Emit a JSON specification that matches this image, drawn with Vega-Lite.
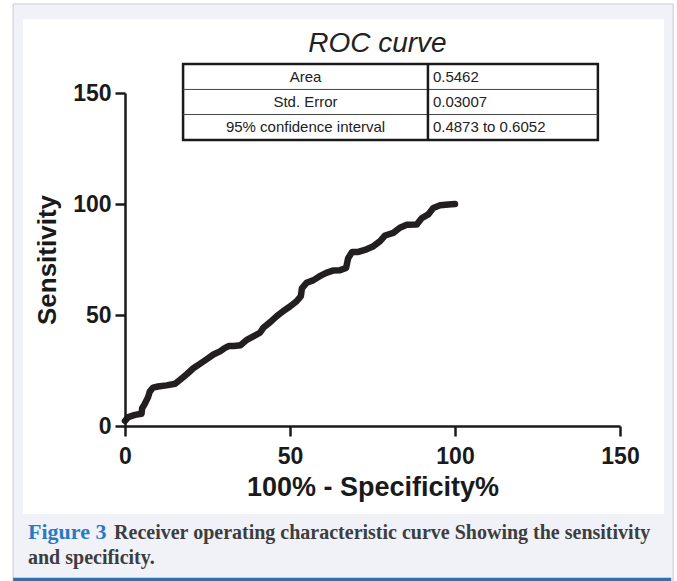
{
  "$schema": "https://vega.github.io/schema/vega-lite/v6.json",
  "width": 495,
  "height": 333,
  "autosize": {"type": "none"},
  "padding": {"left": 125, "top": 93, "right": 57, "bottom": 155},
  "background": "#ffffff",
  "config": {
    "view": {"stroke": null},
    "font": "Liberation Sans",
    "axis": {
      "domainColor": "#1a1a1a", "domainWidth": 2.5, "tickColor": "#1a1a1a", "tickWidth": 2.5, "tickSize": 10,
      "labelFont": "Liberation Sans", "labelFontSize": 23, "labelFontWeight": "bold", "labelColor": "#1a1a1a",
      "titleFont": "Liberation Sans", "titleFontWeight": "bold", "titleColor": "#1a1a1a",
      "grid": false, "labelFlush": false, "labelOverlap": false
    }
  },
  "datasets": {
    "roc": [
      {"fpr": 0, "sens": 2.3}, {"fpr": 1, "sens": 4}, {"fpr": 3, "sens": 5}, {"fpr": 5, "sens": 5.5}, {"fpr": 5.2, "sens": 8},
      {"fpr": 6, "sens": 10}, {"fpr": 7, "sens": 13}, {"fpr": 7.5, "sens": 15.5}, {"fpr": 8.5, "sens": 17.3}, {"fpr": 10, "sens": 17.8},
      {"fpr": 12.6, "sens": 18.3}, {"fpr": 15.2, "sens": 19}, {"fpr": 16.7, "sens": 20.8}, {"fpr": 18.7, "sens": 23.3}, {"fpr": 20.7, "sens": 26},
      {"fpr": 22.7, "sens": 28}, {"fpr": 24.7, "sens": 30}, {"fpr": 26.8, "sens": 32.2}, {"fpr": 28.8, "sens": 33.6}, {"fpr": 30.3, "sens": 35.2},
      {"fpr": 31.5, "sens": 36}, {"fpr": 33, "sens": 36}, {"fpr": 35, "sens": 36.4}, {"fpr": 36.9, "sens": 38.8}, {"fpr": 38.9, "sens": 40.4},
      {"fpr": 40.9, "sens": 42}, {"fpr": 42, "sens": 44.4}, {"fpr": 44, "sens": 46.8}, {"fpr": 46, "sens": 49.5}, {"fpr": 48, "sens": 51.8},
      {"fpr": 50, "sens": 53.8}, {"fpr": 52, "sens": 56.2}, {"fpr": 53.3, "sens": 58.5}, {"fpr": 53.6, "sens": 62}, {"fpr": 55, "sens": 64.5},
      {"fpr": 57, "sens": 65.6}, {"fpr": 59, "sens": 67.5}, {"fpr": 61, "sens": 69}, {"fpr": 63, "sens": 70}, {"fpr": 65.2, "sens": 70.2},
      {"fpr": 67, "sens": 71.2}, {"fpr": 67.6, "sens": 75.5}, {"fpr": 68.8, "sens": 78.4}, {"fpr": 70.7, "sens": 78.4}, {"fpr": 73.2, "sens": 79.6},
      {"fpr": 75.3, "sens": 81}, {"fpr": 77.3, "sens": 83.3}, {"fpr": 78.8, "sens": 85.8}, {"fpr": 81.3, "sens": 87}, {"fpr": 83.3, "sens": 89.3},
      {"fpr": 85.4, "sens": 90.6}, {"fpr": 88.4, "sens": 90.8}, {"fpr": 89.9, "sens": 93.6}, {"fpr": 91.9, "sens": 95.3}, {"fpr": 93.4, "sens": 98.2},
      {"fpr": 95.5, "sens": 99.4}, {"fpr": 98, "sens": 99.8}, {"fpr": 100, "sens": 100}
    ],
    "table": [
      {"stat": "Area", "value": "0.5462"},
      {"stat": "Std. Error", "value": "0.03007"},
      {"stat": "95% confidence interval", "value": "0.4873 to 0.6052"}
    ]
  },
  "layer": [
    {
      "layer": [
        {
          "data": {"values": [{}]},
          "mark": {"type": "rect", "fill": "#f0f2f7", "stroke": "#c8cad0", "strokeWidth": 1},
          "encoding": {
            "x": {"datum": -33.9, "type": "quantitative"}, "x2": {"datum": 166.1},
            "y": {"datum": 190.1, "type": "quantitative"}, "y2": {"datum": -80}
          }
        },
        {
          "data": {"values": [{}]},
          "mark": {"type": "rect", "fill": "#ffffff"},
          "encoding": {
            "x": {"datum": -30.9, "type": "quantitative"}, "x2": {"datum": 163.3},
            "y": {"datum": 183.3, "type": "quantitative"}, "y2": {"datum": -39.6}
          }
        },
        {
          "data": {"values": [{}]},
          "mark": {"type": "rule", "color": "#2a72b8", "strokeWidth": 3.5},
          "encoding": {
            "x": {"datum": -33.9, "type": "quantitative"}, "x2": {"datum": 165.5},
            "y": {"datum": -69.1, "type": "quantitative"}
          }
        },
        {
          "data": {"name": "roc"},
          "mark": {"type": "line", "color": "#231f20", "strokeWidth": 6.5, "strokeCap": "round", "strokeJoin": "round"},
          "encoding": {
            "x": {"field": "fpr", "type": "quantitative", "title": "100% - Specificity%",
                  "scale": {"domain": [0, 150], "nice": false},
                  "axis": {"values": [0, 50, 100, 150], "labelPadding": 9, "titlePadding": 6, "titleFontSize": 27, "zindex": 2}},
            "y": {"field": "sens", "type": "quantitative", "title": "Sensitivity",
                  "scale": {"domain": [0, 150], "nice": false},
                  "axis": {"values": [0, 50, 100, 150], "labelPadding": 4, "titlePadding": 12, "titleFontSize": 26, "zindex": 2}}
          }
        },
        {
          "data": {"values": [{}]},
          "mark": {"type": "rect", "fill": null, "stroke": "#1a1a1a", "strokeWidth": 2.5},
          "encoding": {
            "x": {"datum": 17.6, "type": "quantitative"}, "x2": {"datum": 143.3},
            "y": {"datum": 163.1, "type": "quantitative"}, "y2": {"datum": 128.8}
          }
        },
        {
          "data": {"values": [{"r": 151.6}, {"r": 140.3}]},
          "mark": {"type": "rule", "color": "#444444", "strokeWidth": 1},
          "encoding": {
            "x": {"datum": 17.6, "type": "quantitative"}, "x2": {"datum": 143.3},
            "y": {"field": "r", "type": "quantitative"}
          }
        },
        {
          "data": {"values": [{}]},
          "mark": {"type": "rule", "color": "#1a1a1a", "strokeWidth": 2.5},
          "encoding": {
            "x": {"datum": 91.8, "type": "quantitative"},
            "y": {"datum": 163.1, "type": "quantitative"}, "y2": {"datum": 128.8}
          }
        },
        {
          "data": {"values": [{"t": "ROC curve"}]},
          "mark": {"type": "text", "font": "Liberation Sans", "fontSize": 28, "fontStyle": "italic", "color": "#222222", "align": "center", "baseline": "alphabetic"},
          "encoding": {
            "x": {"datum": 76.5, "type": "quantitative"},
            "y": {"datum": 168.5, "type": "quantitative"},
            "text": {"field": "t"}
          }
        },
        {
          "data": {"values": [{"t": "Figure 3"}]},
          "mark": {"type": "text", "font": "Liberation Serif", "fontSize": 22, "fontWeight": "bold", "color": "#2b79c2", "align": "left", "baseline": "alphabetic"},
          "encoding": {
            "x": {"datum": -29.4, "type": "quantitative"},
            "y": {"datum": -50.9, "type": "quantitative"},
            "text": {"field": "t"}
          }
        },
        {
          "data": {"values": [{"t": "Receiver operating characteristic curve Showing the sensitivity"}]},
          "mark": {"type": "text", "font": "Liberation Serif", "fontSize": 20, "fontWeight": "bold", "color": "#3d3d3d", "align": "left", "baseline": "alphabetic"},
          "encoding": {
            "x": {"datum": -3.3, "type": "quantitative"},
            "y": {"datum": -50.9, "type": "quantitative"},
            "text": {"field": "t"}
          }
        },
        {
          "data": {"values": [{"t": "and specificity."}]},
          "mark": {"type": "text", "font": "Liberation Serif", "fontSize": 20, "fontWeight": "bold", "color": "#3d3d3d", "align": "left", "baseline": "alphabetic"},
          "encoding": {
            "x": {"datum": -29.4, "type": "quantitative"},
            "y": {"datum": -62.2, "type": "quantitative"},
            "text": {"field": "t"}
          }
        }
      ]
    },
    {
      "data": {"name": "table"},
      "encoding": {
        "y": {"field": "stat", "type": "nominal", "sort": null,
              "scale": {"type": "band", "domain": ["Area", "Std. Error", "95% confidence interval"], "range": [-29, 47], "paddingInner": 0, "paddingOuter": 0},
              "axis": null}
      },
      "layer": [
        {
          "mark": {"type": "text", "font": "Liberation Sans", "fontSize": 15, "color": "#222222", "align": "center", "baseline": "middle"},
          "encoding": {"x": {"datum": 54.7, "type": "quantitative"}, "text": {"field": "stat"}}
        },
        {
          "mark": {"type": "text", "font": "Liberation Sans", "fontSize": 15, "color": "#222222", "align": "left", "baseline": "middle"},
          "encoding": {"x": {"datum": 93.3, "type": "quantitative"}, "text": {"field": "value"}}
        }
      ]
    }
  ],
  "resolve": {"scale": {"y": "independent"}}
}
